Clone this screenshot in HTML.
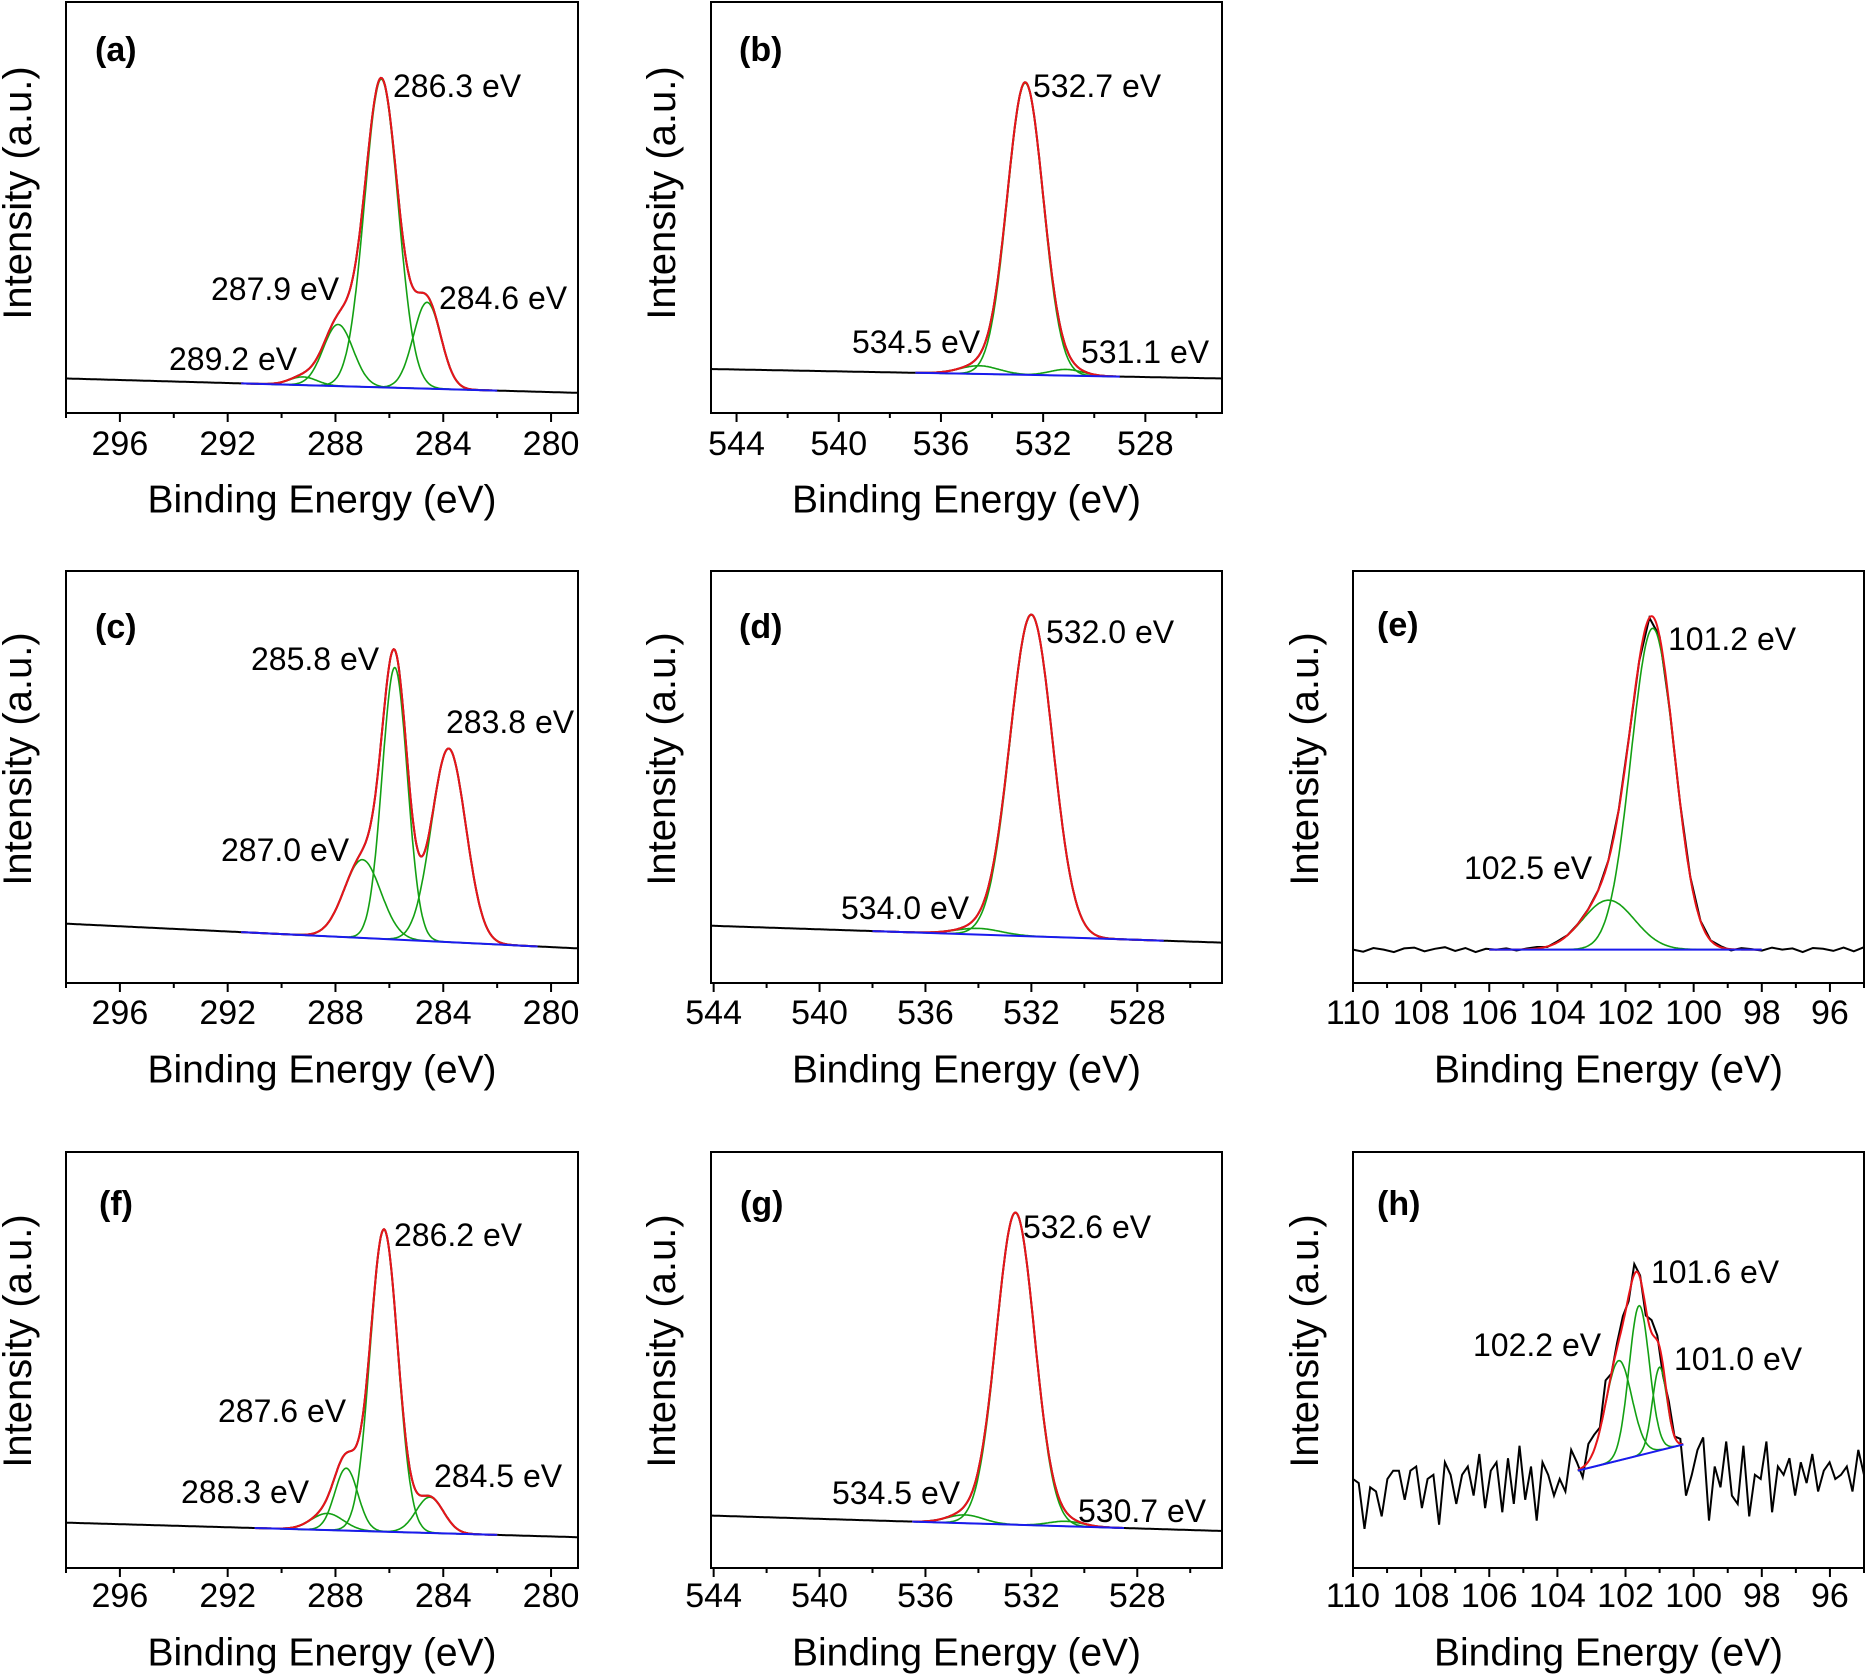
<!DOCTYPE html>
<html><head><meta charset="utf-8"><style>
html,body{margin:0;padding:0;background:#fff}
svg{display:block}
text{font-family:"Liberation Sans",Arial,sans-serif;fill:#000}
.tk{font-size:34px}
.ann{font-size:32px}
.ttl{font-size:39px}
.ytl{font-size:40px}
.pl{font-size:34px;font-weight:bold}
</style></head><body>
<svg id="fig" width="1866" height="1675" viewBox="0 0 1866 1675" xmlns="http://www.w3.org/2000/svg">
<g id="annots">
<text class="pl" x="95" y="50" dominant-baseline="central">(a)</text>
<text class="ann" x="393" y="86" dominant-baseline="central">286.3 eV</text>
<text class="ann" x="211" y="289" dominant-baseline="central">287.9 eV</text>
<text class="ann" x="439" y="298" dominant-baseline="central">284.6 eV</text>
<text class="ann" x="169" y="359" dominant-baseline="central">289.2 eV</text>
<text class="pl" x="739" y="50" dominant-baseline="central">(b)</text>
<text class="ann" x="1033" y="86" dominant-baseline="central">532.7 eV</text>
<text class="ann" x="852" y="342" dominant-baseline="central">534.5 eV</text>
<text class="ann" x="1081" y="352" dominant-baseline="central">531.1 eV</text>
<text class="pl" x="95" y="627" dominant-baseline="central">(c)</text>
<text class="ann" x="251" y="659" dominant-baseline="central">285.8 eV</text>
<text class="ann" x="446" y="722" dominant-baseline="central">283.8 eV</text>
<text class="ann" x="221" y="850" dominant-baseline="central">287.0 eV</text>
<text class="pl" x="739" y="627" dominant-baseline="central">(d)</text>
<text class="ann" x="1046" y="632" dominant-baseline="central">532.0 eV</text>
<text class="ann" x="841" y="908" dominant-baseline="central">534.0 eV</text>
<text class="pl" x="1377" y="625" dominant-baseline="central">(e)</text>
<text class="ann" x="1668" y="639" dominant-baseline="central">101.2 eV</text>
<text class="ann" x="1464" y="868" dominant-baseline="central">102.5 eV</text>
<text class="pl" x="99" y="1204" dominant-baseline="central">(f)</text>
<text class="ann" x="394" y="1235" dominant-baseline="central">286.2 eV</text>
<text class="ann" x="218" y="1411" dominant-baseline="central">287.6 eV</text>
<text class="ann" x="181" y="1492" dominant-baseline="central">288.3 eV</text>
<text class="ann" x="434" y="1476" dominant-baseline="central">284.5 eV</text>
<text class="pl" x="740" y="1204" dominant-baseline="central">(g)</text>
<text class="ann" x="1023" y="1227" dominant-baseline="central">532.6 eV</text>
<text class="ann" x="832" y="1493" dominant-baseline="central">534.5 eV</text>
<text class="ann" x="1078" y="1511" dominant-baseline="central">530.7 eV</text>
<text class="pl" x="1377" y="1204" dominant-baseline="central">(h)</text>
<text class="ann" x="1651" y="1272" dominant-baseline="central">101.6 eV</text>
<text class="ann" x="1473" y="1345" dominant-baseline="central">102.2 eV</text>
<text class="ann" x="1674" y="1359" dominant-baseline="central">101.0 eV</text>
</g>
</svg>
<script>
// ---- data arrays ----
const aCenters=[289.2,287.9,286.3,284.6]; const aAmps=[0.02,0.15,0.75,0.21]; const aFwhm=[1.2,1.3,1.45,1.2];
const aBg=[0.084,0.049]; const aFit=[291.5,282]; const aTicks=[296,292,288,284,280];
const bCenters=[534.5,532.7,531.1]; const bAmps=[0.02,0.71,0.015]; const bFwhm=[1.8,1.65,1.5];
const bBg=[0.107,0.084]; const bFit=[537,529]; const bTicks=[544,540,536,532,528];
const cCenters=[287.0,285.8,283.8]; const cAmps=[0.19,0.66,0.47]; const cFwhm=[1.6,1.1,1.5];
const cBg=[0.144,0.084]; const cFit=[291.5,280.5]; const cTicks=[296,292,288,284,280];
const dCenters=[534.0,532.0]; const dAmps=[0.015,0.78]; const dFwhm=[2.0,1.9];
const dBg=[0.139,0.098]; const dFit=[538,527]; const dTicks=[544,540,536,532,528];
const eCenters=[102.5,101.2]; const eAmps=[0.12,0.78]; const eFwhm=[1.8,1.5];
const eBg=[0.081,0.081]; const eFit=[106,98]; const eTicks=[110,108,106,104,102,100,98,96];
const eNoise=[0.0,-0.005,0.004,0.0,-0.006,0.003,0.005,-0.004,0.002,0.006,-0.003,0.004,-0.006,0.002,0.0,0.005,-0.004,0.003,0.006,-0.002,0.004,0,0,0,0,0,0,0,0,0,0,0,0,0,0,0,0.004,-0.005,0.006,0.002,-0.004,0.005,0.0,0.003,-0.006,0.004,0.002,-0.003,0.005,-0.004,0.006];
const fCenters=[288.3,287.6,286.2,284.5]; const fAmps=[0.04,0.15,0.726,0.086]; const fFwhm=[1.4,1.0,1.2,1.2];
const fBg=[0.109,0.074]; const fFit=[291,282]; const fTicks=[296,292,288,284,280];
const gCenters=[534.5,532.6,530.7]; const gAmps=[0.02,0.75,0.012]; const gFwhm=[1.6,1.7,1.5];
const gBg=[0.126,0.089]; const gFit=[536.5,528.5]; const gTicks=[544,540,536,532,528];
const hCenters=[102.2,101.6,101.0]; const hAmps=[0.24,0.36,0.2]; const hFwhm=[0.9,0.7,0.5];
const hBg=[0.194,0.194]; const hFit=[103.4,100.3]; const hBlue=[0.234,0.297]; const hTicks=[110,108,106,104,102,100,98,96];
const hNoise=[0.02,0.01,-0.1,0.0,-0.01,-0.07,0.02,0.04,0.04,-0.03,0.04,0.05,-0.05,0.02,0.03,-0.09,0.06,0.03,-0.04,0.03,0.05,-0.02,0.08,-0.05,0.04,0.06,-0.06,0.07,-0.04,0.1,-0.03,0.05,-0.08,0.06,0.03,-0.02,0.02,-0.01,0.09,0.06,-0.04,0.07,0.06,0.01,0.09,0.0,
 0.02,0.03,-0.02,0.04,0.01,-0.03,0.05,0.02,-0.04,0.03,0.0,0.02,-0.02,0.03,
 0.09,0.12,-0.08,0.05,0.0,0.11,-0.02,-0.04,0.1,-0.07,0.03,0.02,0.11,-0.06,0.05,0.03,0.07,-0.02,0.06,0.01,0.08,-0.01,0.04,0.06,0.02,0.03,0.05,-0.01,0.09,0.03];

const panels=[
 {id:'a',L:66,R:578,T:2,B:413,x0:298,x1:279,c:aCenters,a:aAmps,w:aFwhm,bg:aBg,fit:aFit,ticks:aTicks,minor:2,ty:444,tty:500,ytx:18,yty:193},
 {id:'b',L:711,R:1222,T:2,B:413,x0:545,x1:525,c:bCenters,a:bAmps,w:bFwhm,bg:bBg,fit:bFit,ticks:bTicks,minor:2,ty:444,tty:500,ytx:662,yty:193},
 {id:'c',L:66,R:578,T:571,B:983,x0:298,x1:279,c:cCenters,a:cAmps,w:cFwhm,bg:cBg,fit:cFit,ticks:cTicks,minor:2,ty:1013,tty:1070,ytx:18,yty:759},
 {id:'d',L:711,R:1222,T:571,B:983,x0:544.1,x1:524.8,c:dCenters,a:dAmps,w:dFwhm,bg:dBg,fit:dFit,ticks:dTicks,minor:2,ty:1013,tty:1070,ytx:662,yty:759},
 {id:'e',L:1353,R:1864,T:571,B:983,x0:110,x1:95,c:eCenters,a:eAmps,w:eFwhm,bg:eBg,fit:eFit,ticks:eTicks,minor:1,noise:eNoise,ty:1013,tty:1070,ytx:1305,yty:759},
 {id:'f',L:66,R:578,T:1152,B:1568,x0:298,x1:279,c:fCenters,a:fAmps,w:fFwhm,bg:fBg,fit:fFit,ticks:fTicks,minor:2,ty:1596,tty:1653,ytx:18,yty:1341},
 {id:'g',L:711,R:1222,T:1152,B:1568,x0:544.1,x1:524.8,c:gCenters,a:gAmps,w:gFwhm,bg:gBg,fit:gFit,ticks:gTicks,minor:2,ty:1596,tty:1653,ytx:662,yty:1341},
 {id:'h',L:1353,R:1864,T:1152,B:1568,x0:110,x1:95,c:hCenters,a:hAmps,w:hFwhm,bg:hBg,fit:hFit,blue:hBlue,ticks:hTicks,minor:1,noise:hNoise,ty:1596,tty:1653,ytx:1305,yty:1341}
];
const NS='http://www.w3.org/2000/svg';
const svg=document.getElementById('fig');
function mk(tag,attrs){const e=document.createElementNS(NS,tag);for(const k in attrs)e.setAttribute(k,attrs[k]);return e;}
function gauss(x,c,a,w){return a*Math.exp(-4*Math.LN2*(x-c)*(x-c)/(w*w));}
panels.forEach(p=>{
 const g=mk('g',{});
 
 
 svg.appendChild(g);
 const X=v=>p.L+(v-p.x0)/(p.x1-p.x0)*(p.R-p.L);
 const Y=v=>p.B-v*(p.B-p.T);
 const bgAt=x=>p.bg[0]+(p.bg[1]-p.bg[0])*(x-p.x0)/(p.x1-p.x0);
 const blueAt=x=>{ if(p.blue) return p.blue[0]+(p.blue[1]-p.blue[0])*(x-p.fit[0])/(p.fit[1]-p.fit[0]); return bgAt(p.fit[0])+(bgAt(p.fit[1])-bgAt(p.fit[0]))*(x-p.fit[0])/(p.fit[1]-p.fit[0]);};
 const sumP=x=>p.c.reduce((s,c,i)=>s+gauss(x,c,p.a[i],p.w[i]),0);
 const inFit=x=>x<=p.fit[0]&&x>=p.fit[1];
 let pts=[];
 if(p.noise){
  const n=p.noise.length;
  for(let i=0;i<n;i++){const x=p.x0+(p.x1-p.x0)*i/(n-1);
   let v=inFit(x)?blueAt(x)+sumP(x)+p.noise[i]*0.6:bgAt(x)+p.noise[i];
   pts.push(X(x).toFixed(1)+','+Y(v).toFixed(1));}
 } else {
  for(let x=p.x0;x>=p.x1-1e-9;x-=0.04){let v=(inFit(x)?blueAt(x):bgAt(x))+sumP(x);pts.push(X(x).toFixed(1)+','+Y(v).toFixed(1));}
 }
 const blk=mk('polyline',{points:pts.join(' '),fill:'none',stroke:'#000','stroke-width':2});
 
 
 g.appendChild(blk);
 p.c.forEach((c,i)=>{let q=[];for(let x=p.fit[0];x>=p.fit[1]-1e-9;x-=0.03){q.push(X(x).toFixed(1)+','+Y(blueAt(x)+gauss(x,c,p.a[i],p.w[i])).toFixed(1));}
  const gl=mk('polyline',{points:q.join(' '),fill:'none',stroke:'#13a013','stroke-width':1.6});
  
  
  g.appendChild(gl);});
 let r=[];for(let x=p.fit[0];x>=p.fit[1]-1e-9;x-=0.03){r.push(X(x).toFixed(1)+','+Y(blueAt(x)+sumP(x)).toFixed(1));}
 const red=mk('polyline',{points:r.join(' '),fill:'none',stroke:'#e8141a','stroke-width':2});
 
 
 g.appendChild(red);
 const bl=mk('line',{x1:X(p.fit[0]),y1:Y(blueAt(p.fit[0])),x2:X(p.fit[1]),y2:Y(blueAt(p.fit[1])),stroke:'#1a1aee','stroke-width':2});
 
 
 g.appendChild(bl);
 const fr=mk('rect',{x:p.L,y:p.T,width:p.R-p.L,height:p.B-p.T,fill:'none',stroke:'#000','stroke-width':2});
 
 
 g.appendChild(fr);
 const lo=Math.ceil(Math.min(p.x0,p.x1)/p.minor)*p.minor, hi=Math.max(p.x0,p.x1);
 for(let v=lo;v<=hi+1e-9;v+=p.minor){const major=p.ticks.includes(v);
  const t=mk('line',{x1:X(v),x2:X(v),y1:p.B,y2:p.B+(major?9:5),stroke:'#000','stroke-width':2});
  
  
  g.appendChild(t);}
 p.ticks.forEach(v=>{const t=mk('text',{x:X(v),y:p.ty,'text-anchor':'middle','dominant-baseline':'central',class:'tk'});t.textContent=v;
  
  
  g.appendChild(t);});
 const xt=mk('text',{x:(p.L+p.R)/2,y:p.tty,'text-anchor':'middle','dominant-baseline':'central',class:'ttl'});xt.textContent='Binding Energy (eV)';
 
 
 g.appendChild(xt);
 const yt=mk('text',{x:p.ytx,y:p.yty,'text-anchor':'middle','dominant-baseline':'central',class:'ytl',transform:'rotate(-90 '+p.ytx+' '+p.yty+')'});yt.textContent='Intensity (a.u.)';
 
 
 g.appendChild(yt);
});
</script>
</body></html>
